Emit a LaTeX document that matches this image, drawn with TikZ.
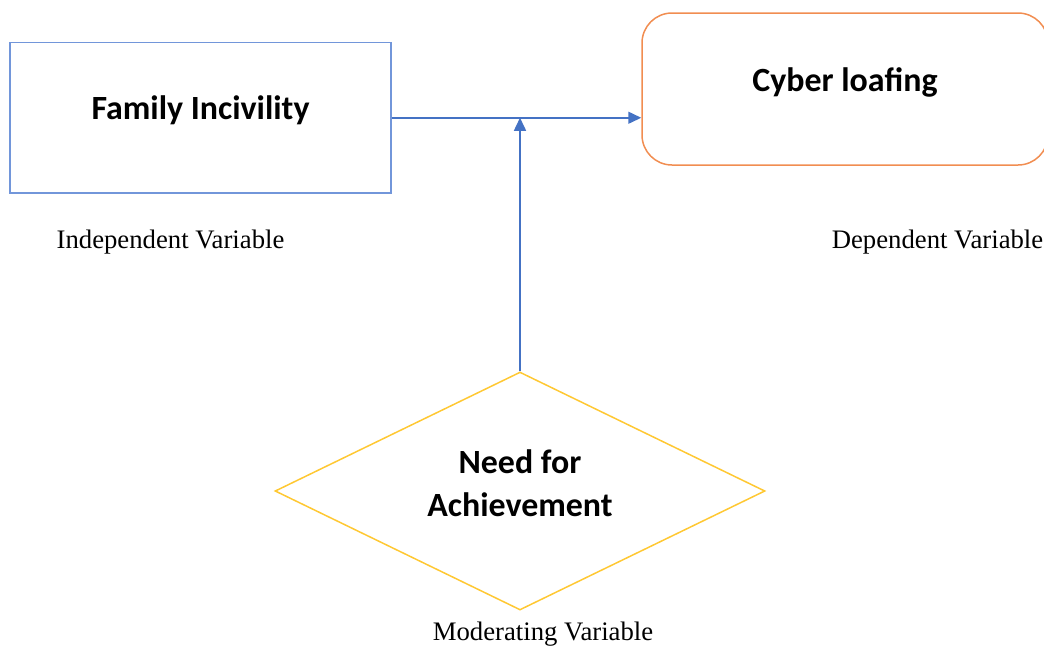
\documentclass[tikz,border=0pt]{standalone}
\usepackage{fontspec}
\setmainfont{Liberation Serif}
\newfontfamily\boxfont{Carlito}
\usetikzlibrary{shapes.geometric,arrows.meta}

\begin{document}
\begin{tikzpicture}
\definecolor{cfi}{rgb}{0.447,0.588,0.855}
\definecolor{ccl}{rgb}{0.945,0.553,0.318}
\definecolor{cna}{rgb}{1.0,0.784,0.200}
\definecolor{cedge}{rgb}{0.267,0.447,0.769}
\tikzset{
  varbox/.style={line width=0.03cm,minimum width=#1,inner sep=0pt,
    font=\boxfont\bfseries\fontsize{19.3}{24}\selectfont,align=center},
  varlabel/.style={font=\fontsize{15.2}{18}\selectfont},
  link/.style={draw=cedge,line width=0.03cm,-{Triangle[length=0.26cm,width=0.24cm]}}
}
\clip (0,0) rectangle (20.88,-12.98);
%
\node[varbox=7.62cm,draw=cfi,minimum height=3.01cm,text depth=11pt] (fi) at (4.01,-2.355) {Family Incivility};
\node[varbox=8.12cm,draw=ccl,minimum height=3.04cm,rounded corners=0.6cm,text depth=11pt] (cl) at (16.9,-1.78) {Cyber loafing};
\node[varbox=9.8cm,draw=cna,shape=diamond,shape aspect=2,minimum height=4.76cm,text depth=9pt] (na) at (10.4,-9.82) {Need for\\Achievement};
%
\node[varlabel] (iv) at (3.41,-4.84) {Independent Variable};
\node[varlabel] (dv) at (18.75,-4.84) {Dependent Variable};
\node[varlabel] (mv) at (10.86,-12.68) {Moderating Variable};
%
\draw[link] (fi.east) -- (fi.east -| cl.west);
\draw[link] (na.north) -- (na.north |- fi.east);
%
\end{tikzpicture}
\end{document}
